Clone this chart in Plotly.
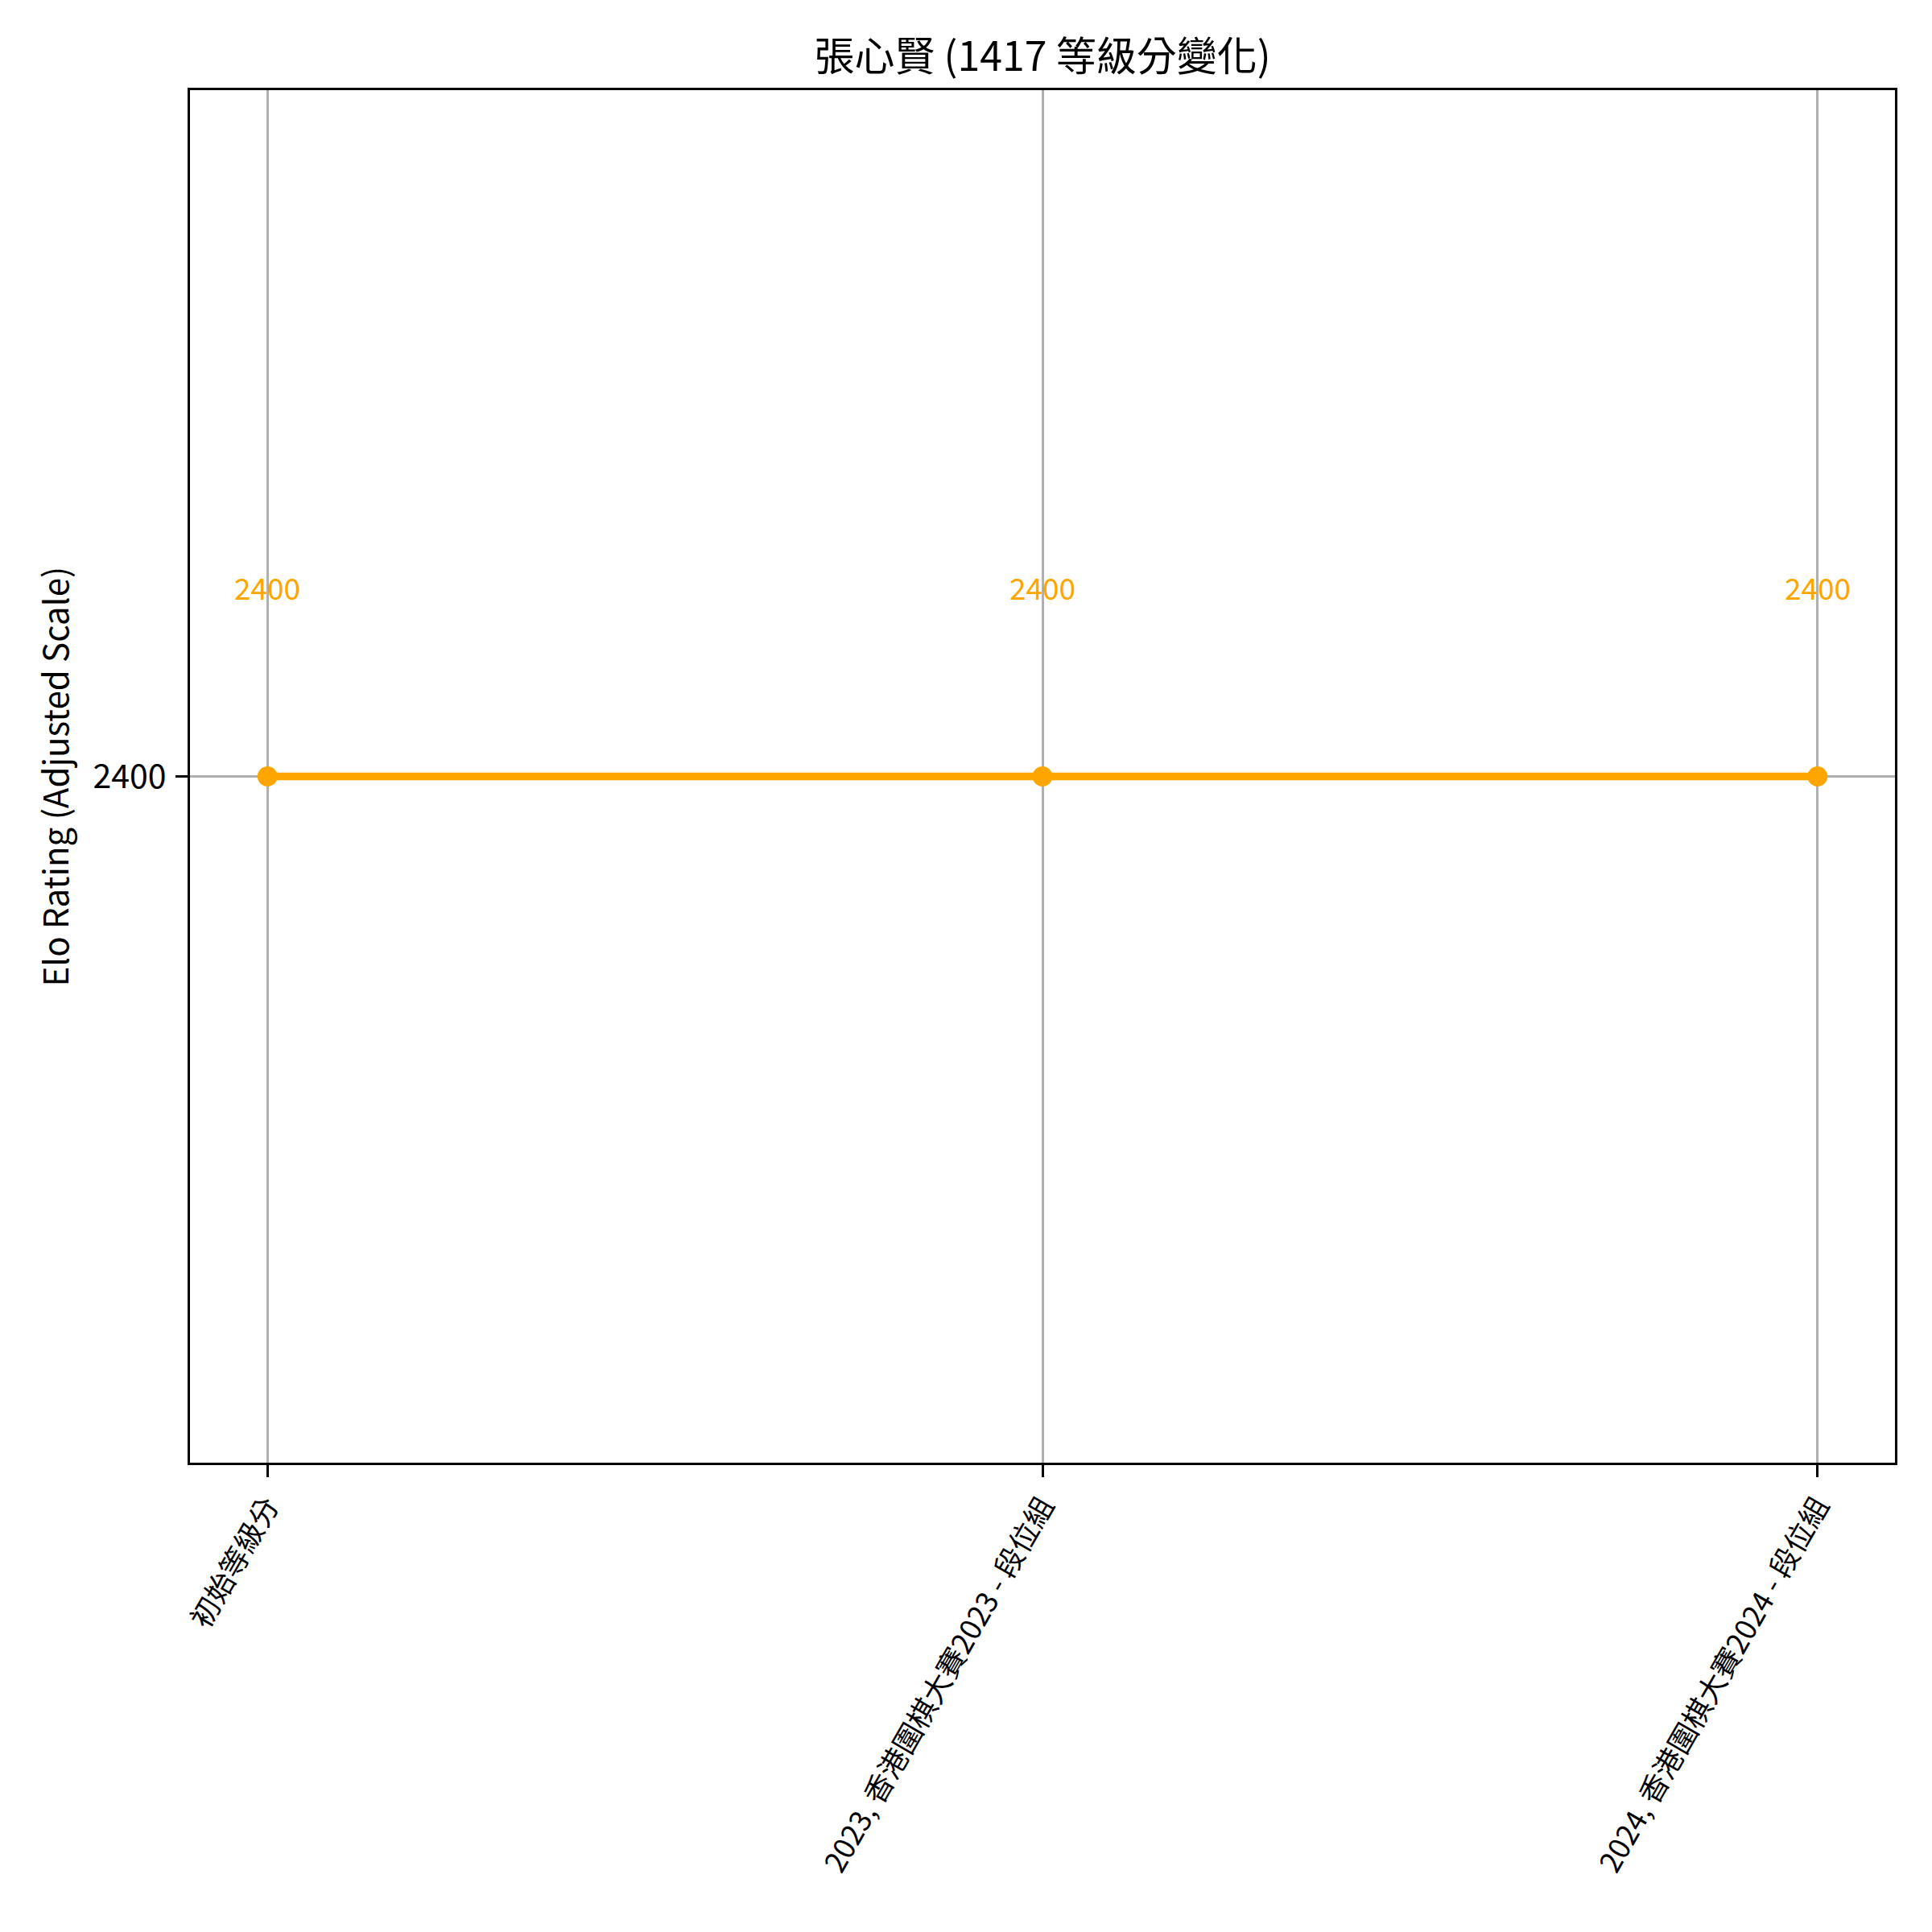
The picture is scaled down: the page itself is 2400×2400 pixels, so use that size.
import plotly.graph_objects as go

categories = ["初始等級分", "2023, 香港圍棋大賽2023 - 段位組", "2024, 香港圍棋大賽2024 - 段位組"]
ratings = [2400, 2400, 2400]
y_ticks = [2400]
title_text = "張心賢 (1417 等級分變化)"
y_title = "Elo Rating (Adjusted Scale)"

FONT = "Noto Sans CJK TC"
ORANGE = "#FFA500"

x_idx = list(range(len(categories)))

fig = go.Figure()
fig.add_trace(go.Scatter(
    x=x_idx, y=ratings, mode="lines+markers",
    line=dict(color=ORANGE, width=9.5),
    marker=dict(color=ORANGE, size=25),
    showlegend=False, hoverinfo="skip",
))

annotations = []
for xi, v in zip(x_idx, ratings):
    annotations.append(dict(
        x=xi, y=v, xref="x", yref="y", text=str(v), showarrow=False,
        yshift=236, xanchor="center", yanchor="middle",
        font=dict(family=FONT, size=37, color=ORANGE),
    ))
annotations.append(dict(
    x=0, y=0.5, xref="paper", yref="paper", text=y_title, showarrow=False,
    textangle=-90, xshift=-170, xanchor="center", yanchor="middle",
    font=dict(family=FONT, size=42, color="black"),
))

# page body has an 8px margin; the figure is sized to fit the 2400px window
fig.update_layout(
    width=2384, height=2384,
    margin=dict(l=228, r=38, t=104, b=575, autoexpand=False),
    paper_bgcolor="white", plot_bgcolor="white",
    font=dict(family=FONT, color="black"),
    title=dict(text=title_text, x=0.5, xref="paper", xanchor="center",
               y=1 - 62 / 2384, yref="container", yanchor="middle",
               font=dict(family=FONT, size=50, color="black")),
    annotations=annotations,
)

fig.update_xaxes(
    range=[-0.1, 2.1],
    tickmode="array", tickvals=x_idx, ticktext=categories,
    tickangle=-60, tickfont=dict(family=FONT, size=36, color="black"),
    showgrid=True, gridcolor="#b0b0b0", gridwidth=3.3,
    showline=True, linecolor="black", linewidth=3.3, mirror=True,
    ticks="outside", ticklen=15, tickwidth=3.3, tickcolor="black",
    zeroline=False, automargin=False,
)
fig.update_yaxes(
    range=[2350, 2450],
    tickmode="array", tickvals=y_ticks, ticktext=[str(t) for t in y_ticks],
    tickfont=dict(family=FONT, size=41, color="black"),
    ticklabelstandoff=3,
    showgrid=True, gridcolor="#b0b0b0", gridwidth=3.3,
    showline=True, linecolor="black", linewidth=3.3, mirror=True,
    ticks="outside", ticklen=15, tickwidth=3.3, tickcolor="black",
    zeroline=False, automargin=False,
)

fig.write_html("out.html")
